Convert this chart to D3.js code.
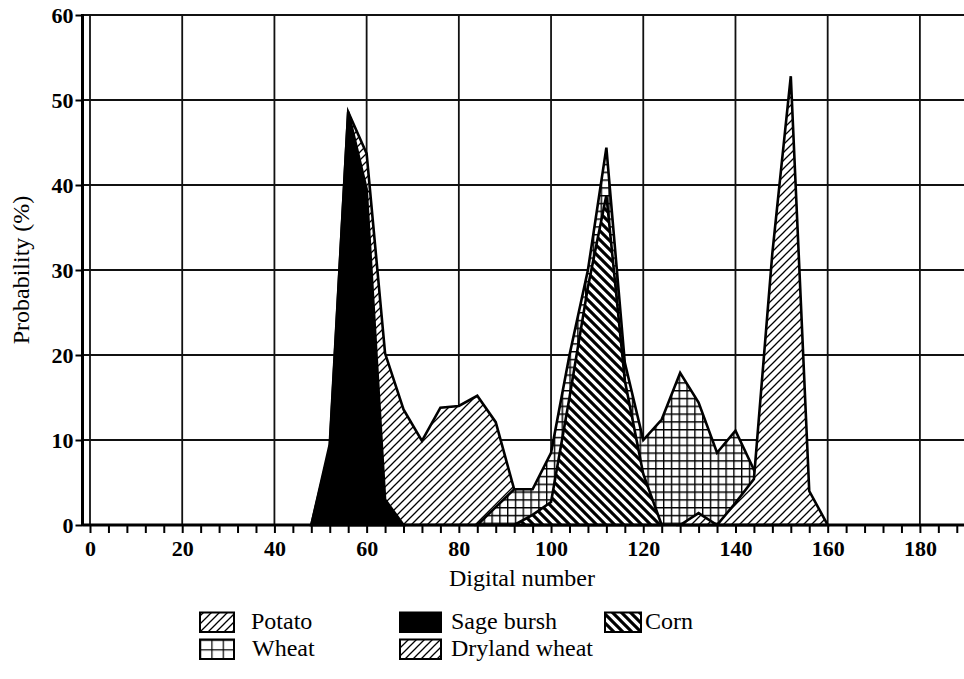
<!DOCTYPE html>
<html>
<head>
<meta charset="utf-8">
<script src="https://cdn.jsdelivr.net/npm/d3@7"></script>
<style>
  html, body { margin: 0; padding: 0; background: #fff; }
  svg { display: block; }
</style>
</head>
<body>
<svg id="chart" width="964" height="679"></svg>
<script>
// Class probability against digital number, sampled every 4 DN
const potatoDN   = [48, 52, 56, 60, 64, 68, 72, 76, 80, 84, 88, 92, 96];
const potatoPct  = [0, 9, 48.6, 43.7, 20.2, 13.6, 9.9, 13.8, 14, 15.2, 12.1, 4.2, 0];
const sageDN     = [48, 52, 56, 60, 64, 68];
const sagePct    = [0, 9.5, 48.6, 39.5, 3, 0];
const wheatDN    = [84, 88, 92, 96, 100, 104, 108, 112, 116, 120, 124, 128, 132, 136, 140, 144, 148];
const wheatPct   = [0, 2.1, 4.2, 4.2, 8.5, 20, 30, 44.4, 19.1, 10, 12.4, 17.9, 14.4, 8.5, 11.1, 6.5, 0];
const cornDN     = [92, 96, 100, 104, 108, 112, 116, 120, 124];
const cornPct    = [0, 1.2, 2.7, 15, 28, 38.8, 17, 6, 0];
const drylandDN  = [128, 132, 136, 140, 144, 148, 152, 156, 160];
const drylandPct = [0, 1.4, 0, 2.6, 5.4, 32, 52.8, 4, 0];

// Axis ticks
const xMinorTicks = d3.range(0, 189, 4);
const xMajorTicks = [0, 20, 40, 60, 80, 100, 120, 140, 160, 180];
const yTicks      = [0, 10, 20, 30, 40, 50, 60];

// Series in drawing order (later ones sit on top)
const seriesNames = ["Potato", "Sage bursh", "Wheat", "Corn", "Dryland wheat"];
const seriesDN    = [potatoDN, sageDN, wheatDN, cornDN, drylandDN];
const seriesPct   = [potatoPct, sagePct, wheatPct, cornPct, drylandPct];
const seriesFill  = ["url(#hatchFwd)", "#000", "url(#gridFill)", "url(#hatchBack)", "url(#hatchFwd)"];

const W = 964, H = 679;
const axisX = 82.5;          // left frame line
const svg = d3.select("#chart");
svg.append("rect").attr("width", W).attr("height", H).attr("fill", "#fff");

const x = d3.scaleLinear().domain([0, 190]).range([90, 966]);
const y = d3.scaleLinear().domain([0, 60]).range([525, 15]);

const serif = "'Liberation Serif', 'Times New Roman', Times, serif";

// ---- fill patterns ----
const defs = svg.append("defs");
const fwd = defs.append("pattern").attr("id", "hatchFwd")
  .attr("patternUnits", "userSpaceOnUse").attr("width", 8).attr("height", 8);
fwd.append("rect").attr("width", 8).attr("height", 8).attr("fill", "#fff");
fwd.append("path").attr("d", "M-2,2 L2,-2 M0,8 L8,0 M6,10 L10,6")
  .attr("stroke", "#000").attr("stroke-width", 1.3);

const back = defs.append("pattern").attr("id", "hatchBack")
  .attr("patternUnits", "userSpaceOnUse").attr("width", 9).attr("height", 9);
back.append("rect").attr("width", 9).attr("height", 9).attr("fill", "#fff");
back.append("path").attr("d", "M-3,6 L3,12 M0,0 L9,9 M6,-3 L12,3")
  .attr("stroke", "#000").attr("stroke-width", 3.1);

const grid = defs.append("pattern").attr("id", "gridFill")
  .attr("patternUnits", "userSpaceOnUse").attr("width", 7.8).attr("height", 7.8);
grid.append("rect").attr("width", 7.8).attr("height", 7.8).attr("fill", "#fff");
grid.append("path").attr("d", "M0,0.7 H7.8 M0.7,0 V7.8")
  .attr("stroke", "#000").attr("stroke-width", 1.4);

// ---- grid lines ----
const g = svg.append("g");
g.selectAll("line.hgrid").data(yTicks.filter(v => v > 0)).join("line")
  .attr("class", "hgrid")
  .attr("x1", axisX).attr("x2", W)
  .attr("y1", d => y(d)).attr("y2", d => y(d))
  .attr("stroke", "#111").attr("stroke-width", 2);
g.selectAll("line.vgrid").data(xMajorTicks).join("line")
  .attr("class", "vgrid")
  .attr("x1", d => x(d)).attr("x2", d => x(d))
  .attr("y1", y(60)).attr("y2", y(0))
  .attr("stroke", "#111").attr("stroke-width", 1.8);

// ---- class areas ----
const area = d3.area()
  .x(d => x(d[0]))
  .y0(y(0))
  .y1(d => y(d[1]));

seriesNames.forEach((name, i) => {
  const pts = seriesDN[i].map((dn, j) => [dn, seriesPct[i][j]]);
  svg.append("path")
    .datum(pts)
    .attr("d", area)
    .attr("fill", seriesFill[i])
    .attr("stroke", "#000")
    .attr("stroke-width", 2.6)
    .attr("stroke-linejoin", "miter")
    .attr("stroke-miterlimit", 6);
});

// ---- axes ----
const xAxis = d3.axisBottom(x)
  .tickValues(xMinorTicks)
  .tickSize(8)
  .tickSizeOuter(0)
  .tickPadding(6)
  .tickFormat(d => xMajorTicks.includes(d) ? d : "");
const gx = svg.append("g").attr("transform", `translate(0,${y(0)})`).call(xAxis);
gx.select(".domain").remove();
gx.selectAll(".tick line").attr("stroke", "#000").attr("stroke-width", 2);
gx.selectAll(".tick text")
  .attr("font-family", serif).attr("font-size", 22).attr("font-weight", "bold")
  .attr("fill", "#000").attr("dy", "0.78em");

const yAxis = d3.axisLeft(y)
  .tickValues(yTicks)
  .tickSize(7)
  .tickSizeOuter(0)
  .tickPadding(2);
const gy = svg.append("g").attr("transform", `translate(${axisX},0)`).call(yAxis);
gy.select(".domain").remove();
gy.selectAll(".tick line").attr("stroke", "#000").attr("stroke-width", 2);
gy.selectAll(".tick text")
  .attr("font-family", serif).attr("font-size", 22).attr("font-weight", "bold")
  .attr("fill", "#000");

// frame lines: left axis and bottom axis
svg.append("line").attr("x1", axisX).attr("x2", axisX).attr("y1", y(60) - 1).attr("y2", y(0) + 1)
  .attr("stroke", "#000").attr("stroke-width", 3);
svg.append("line").attr("x1", axisX).attr("x2", W).attr("y1", y(0)).attr("y2", y(0))
  .attr("stroke", "#000").attr("stroke-width", 3);

// axis titles
svg.append("text")
  .attr("x", 522).attr("y", 586)
  .attr("text-anchor", "middle")
  .attr("font-family", serif).attr("font-size", 24).attr("fill", "#000")
  .text("Digital number");
svg.append("text")
  .attr("transform", "translate(29,270) rotate(-90)")
  .attr("text-anchor", "middle")
  .attr("font-family", serif).attr("font-size", 24).attr("fill", "#000")
  .text("Probability (%)");

// ---- legend ----
const legendLayout = [
  { name: "Potato",        fill: "url(#hatchFwd)",  sx: 200, sw: 34, tx: 251, row: 0 },
  { name: "Sage bursh",    fill: "#000",            sx: 400, sw: 41, tx: 451, row: 0 },
  { name: "Corn",          fill: "url(#hatchBack)", sx: 605, sw: 36, tx: 645, row: 0 },
  { name: "Wheat",         fill: "url(#legendGrid)",sx: 200, sw: 34, tx: 252, row: 1 },
  { name: "Dryland wheat", fill: "url(#hatchFwd)",  sx: 400, sw: 41, tx: 451, row: 1 }
];
const rowTop = [612.5, 639.5];
const rowBase = [629, 656];

const lg = defs.append("pattern").attr("id", "legendGrid")
  .attr("patternUnits", "userSpaceOnUse")
  .attr("x", 200).attr("y", rowTop[1])
  .attr("width", 11.33).attr("height", 9.75);
lg.append("rect").attr("width", 11.33).attr("height", 9.75).attr("fill", "#fff");
lg.append("path").attr("d", "M0,0 H11.33 M0,0 V9.75")
  .attr("stroke", "#000").attr("stroke-width", 2.4);

const leg = svg.append("g");
legendLayout.forEach(it => {
  leg.append("rect")
    .attr("x", it.sx).attr("y", rowTop[it.row])
    .attr("width", it.sw).attr("height", 19.5)
    .attr("fill", it.fill)
    .attr("stroke", "#000").attr("stroke-width", 2);
  leg.append("text")
    .attr("x", it.tx).attr("y", rowBase[it.row])
    .attr("font-family", serif).attr("font-size", 24).attr("fill", "#000")
    .text(it.name);
});
</script>
</body>
</html>
